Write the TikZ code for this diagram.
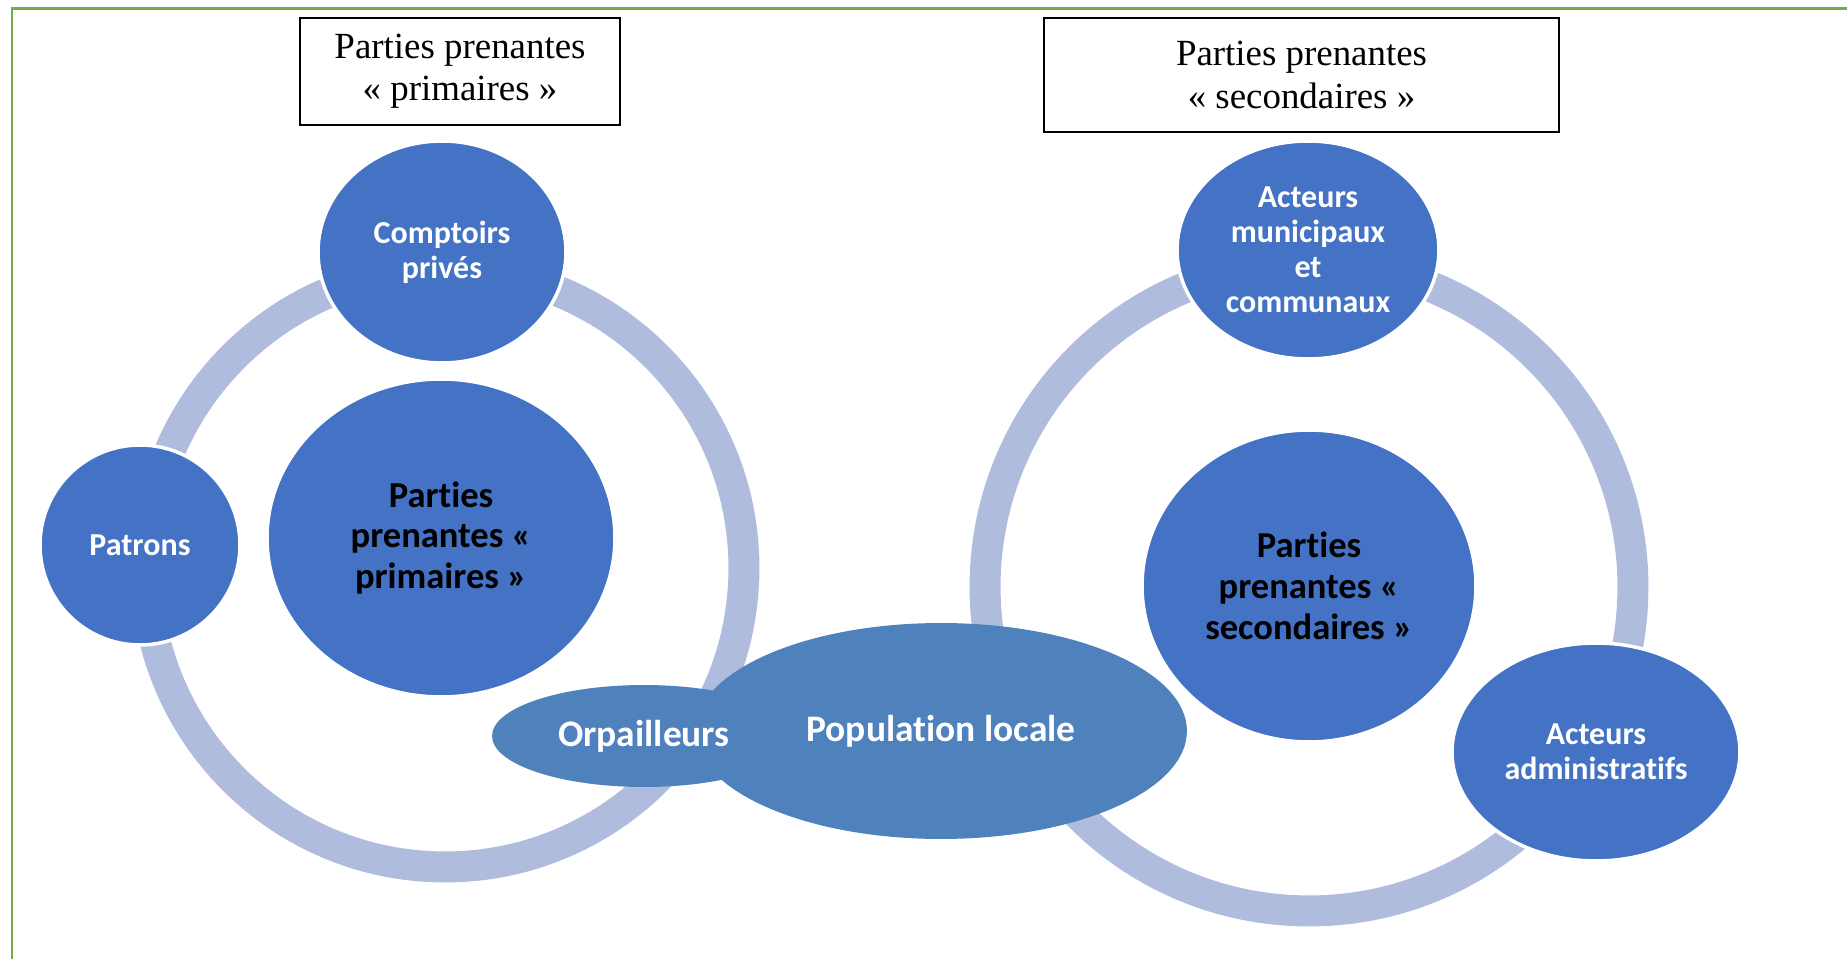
\documentclass[tikz,border=0pt]{standalone}
\usepackage{fontspec}
\setmainfont{Liberation Serif}
\newfontfamily\calibri[Ligatures=NoCommon]{Carlito}
\usetikzlibrary{shapes}

\definecolor{bleu}{HTML}{4472C4}
\definecolor{bleupop}{HTML}{4F81BD}
\definecolor{anneau}{HTML}{B0BCDE}
\definecolor{vert}{HTML}{70AD47}

\begin{document}
\begin{tikzpicture}[x=0.02cm, y=-0.02cm,
    acteur/.style={ellipse, fill=bleu, draw=white, line width=2pt, inner sep=0pt, align=center, text=white,
        font=\calibri\bfseries\fontsize{18.2}{20}\selectfont},
    noyau/.style={acteur, text=black, font=\calibri\bfseries\fontsize{20.8}{23.3}\selectfont},
    pop/.style={ellipse, fill=bleupop, inner sep=0pt, align=center, text=white,
        font=\calibri\bfseries\fontsize{21.3}{24}\selectfont},
    titre/.style={draw, line width=0.9pt, inner sep=0pt, align=center, font=\fontsize{21}{24}\selectfont},
    cercle/.style={draw=anneau, line width=0.62cm}]

    \useasboundingbox (0,0) rectangle (1847,959);
    \draw[vert, line width=1.7pt] (1847,8.5) -- (12,8.5) -- (12,959);

    % titres
    \draw(460,71.5) node[titre, minimum width=6.4cm, minimum height=2.14cm] (primbox) {Parties prenantes\\« primaires »};
    \draw(1301.5,75) node[titre, minimum width=10.3cm, minimum height=2.28cm] (secbox) {Parties prenantes\\« secondaires »};

    % anneaux
    \draw[cercle] (445,568) circle [radius=5.98cm];
    \draw[cercle] (1309,587) circle [radius=6.48cm];

    % parties prenantes primaires
    \draw(442,252) node[acteur, minimum width=4.96cm, minimum height=4.44cm] (comptoirs) {Comptoirs\\privés};
    \draw(140,545) node[acteur, minimum width=4cm, minimum height=4cm] (patrons) {Patrons};
    \draw(441,538) node[noyau, minimum width=6.96cm, minimum height=6.36cm] (primaires) {Parties\\prenantes «\\primaires »};

    % parties prenantes secondaires
    \draw(1308,250) node[acteur, minimum width=5.24cm, minimum height=4.36cm] (municipaux) {Acteurs\\municipaux\\et\\communaux};
    \draw(1309,586) node[noyau, minimum width=6.68cm, minimum height=6.24cm] (secondaires) {Parties\\prenantes «\\secondaires »};
    \draw(1596,752) node[acteur, minimum width=5.76cm, minimum height=4.36cm] (administratifs) {Acteurs\\administratifs};

    % entre les deux (meme couleur, le texte des orpailleurs reste devant)
    \draw(941,731) node[pop, minimum width=9.84cm, minimum height=4.32cm] (population) {Population locale};
    \draw(644,736) node[pop, minimum width=6.08cm, minimum height=2.04cm] (orpailleurs) {Orpailleurs};

\end{tikzpicture}
\end{document}
